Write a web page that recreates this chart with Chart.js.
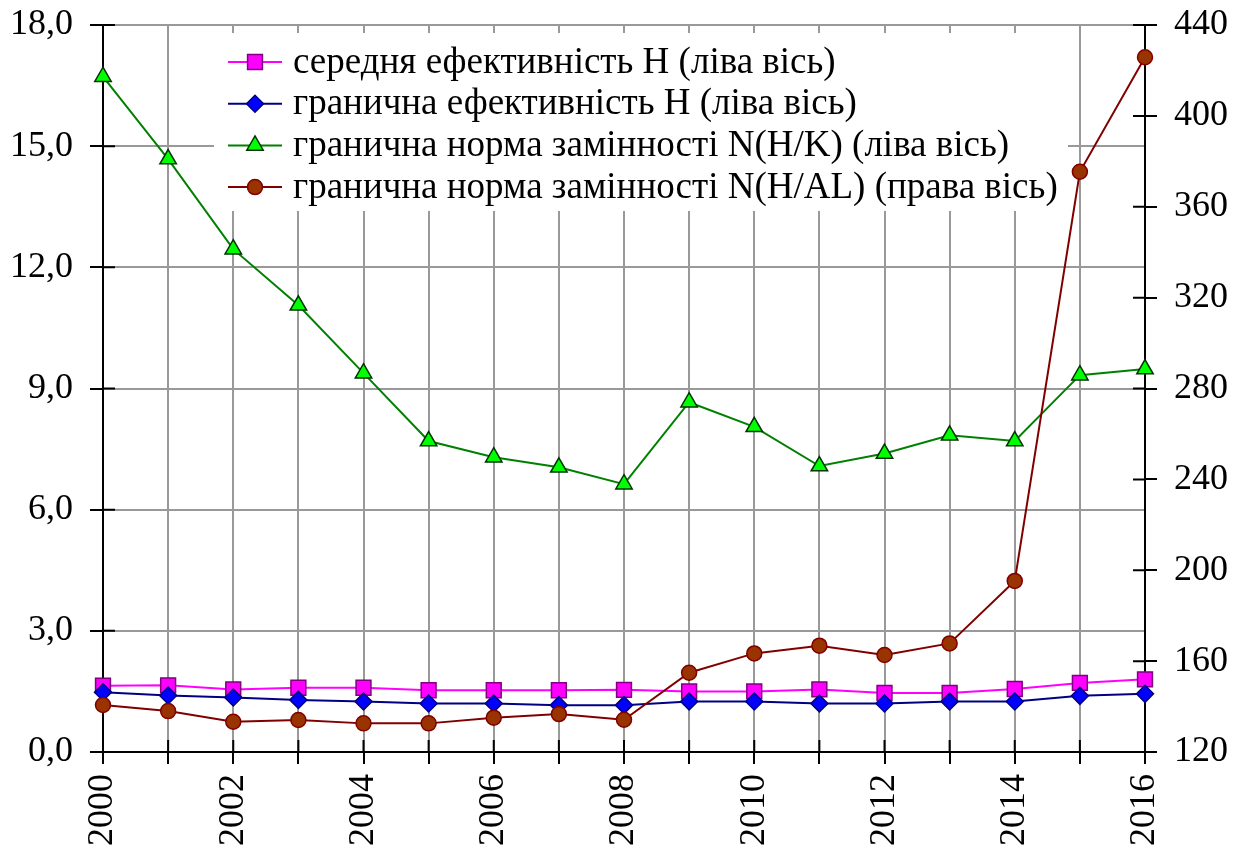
<!DOCTYPE html>
<html>
<head>
<meta charset="utf-8">
<script src="https://cdn.jsdelivr.net/npm/chart.js"></script>
<style>
  body { margin: 0; background: #fff; }
  canvas { display: block; }
</style>
</head>
<body>
<canvas id="lineChart" width="1247" height="855"></canvas>
<script>
// years on the x axis
var years = ['2000', '2001', '2002', '2003', '2004', '2005', '2006', '2007', '2008',
             '2009', '2010', '2011', '2012', '2013', '2014', '2015', '2016'];

// left axis series
var avgEfficiency = [1.64, 1.65, 1.55, 1.59, 1.59, 1.53, 1.53, 1.53, 1.54, 1.50, 1.50, 1.55, 1.46, 1.46, 1.56, 1.71, 1.80];
var margEfficiency = [1.48, 1.40, 1.35, 1.29, 1.25, 1.20, 1.20, 1.16, 1.16, 1.25, 1.25, 1.20, 1.20, 1.25, 1.25, 1.39, 1.44];
var rateHK = [16.72, 14.68, 12.45, 11.06, 9.38, 7.70, 7.30, 7.05, 6.63, 8.66, 8.05, 7.08, 7.39, 7.84, 7.70, 9.33, 9.48];

// right axis series
var rateHAL = [140.7, 138.0, 133.3, 134.1, 132.6, 132.6, 135.1, 136.7, 134.2, 154.9, 163.4, 166.8, 162.7, 167.8, 195.3, 375.4, 425.8];

var seriesLabels = [
  'середня ефективність Н (ліва вісь)',
  'гранична ефективність Н (ліва вісь)',
  'гранична норма замінності N(H/K) (ліва вісь)',
  'гранична норма замінності N(H/AL) (права вісь)'
];

var SERIF = '"Liberation Serif", "Times New Roman", Times, "DejaVu Serif", serif';

var datasets = [{
  label: seriesLabels[0],
  data: avgEfficiency,
  yAxisID: 'y',
  borderColor: '#ff00ff',
  borderWidth: 2,
  pointStyle: 'rect',
  pointRadius: 10.5,
  pointBackgroundColor: '#ff00ff',
  pointBorderColor: '#800080',
  pointBorderWidth: 1.5,
  order: 4
}, {
  label: seriesLabels[1],
  data: margEfficiency,
  yAxisID: 'y',
  borderColor: '#000080',
  borderWidth: 2,
  pointStyle: 'rectRot',
  pointRadius: 8.5,
  pointBackgroundColor: '#0000ff',
  pointBorderColor: '#000080',
  pointBorderWidth: 1.5,
  order: 3
}, {
  label: seriesLabels[2],
  data: rateHK,
  yAxisID: 'y',
  borderColor: '#008000',
  borderWidth: 2,
  pointStyle: 'triangle',
  pointRadius: 9.5,
  pointBackgroundColor: '#00ff00',
  pointBorderColor: '#003300',
  pointBorderWidth: 1.5,
  order: 2
}, {
  label: seriesLabels[3],
  data: rateHAL,
  yAxisID: 'y1',
  borderColor: '#800000',
  borderWidth: 2,
  pointStyle: 'circle',
  pointRadius: 7.5,
  pointBackgroundColor: '#993300',
  pointBorderColor: '#800000',
  pointBorderWidth: 1.5,
  order: 1
}];

// inner half of the tick marks (Chart.js only draws the outer half)
var innerTicks = {
  id: 'innerTicks',
  beforeDatasetsDraw: function(chart) {
    var ctx = chart.ctx;
    var a = chart.chartArea;
    ctx.save();
    ctx.strokeStyle = '#000';
    ctx.lineWidth = 2;
    ctx.beginPath();
    chart.scales.x.ticks.forEach(function(t, i) {
      var px = chart.scales.x.getPixelForTick(i);
      ctx.moveTo(px, a.bottom);
      ctx.lineTo(px, a.bottom - 12);
    });
    chart.scales.y.ticks.forEach(function(t, i) {
      var py = chart.scales.y.getPixelForTick(i);
      ctx.moveTo(a.left, py);
      ctx.lineTo(a.left + 12, py);
    });
    chart.scales.y1.ticks.forEach(function(t, i) {
      var py = chart.scales.y1.getPixelForTick(i);
      ctx.moveTo(a.right, py);
      ctx.lineTo(a.right - 12, py);
    });
    ctx.stroke();
    ctx.restore();
  }
};

// legend box inside the plot, white background over the grid
var boxLegend = {
  id: 'boxLegend',
  beforeDatasetsDraw: function(chart) {
    var ctx = chart.ctx;
    ctx.save();
    ctx.fillStyle = '#fff';
    ctx.fillRect(214, 33, 854, 178);
    ctx.font = '37px ' + SERIF;
    ctx.textBaseline = 'middle';
    datasets.forEach(function(ds, i) {
      var y = 62 + i * 41.7;
      ctx.strokeStyle = ds.borderColor;
      ctx.lineWidth = 2;
      ctx.beginPath();
      ctx.moveTo(228, y);
      ctx.lineTo(282, y);
      ctx.stroke();
      ctx.fillStyle = ds.pointBackgroundColor;
      ctx.strokeStyle = ds.pointBorderColor;
      ctx.lineWidth = ds.pointBorderWidth;
      Chart.helpers.drawPoint(ctx, {
        pointStyle: ds.pointStyle,
        radius: ds.pointRadius,
        rotation: 0,
        borderWidth: ds.pointBorderWidth
      }, 255, y);
      ctx.fillStyle = '#000';
      ctx.fillText(seriesLabels[i], 293, y + 1);
    });
    ctx.restore();
  }
};

var lineChartCanvas = document.getElementById('lineChart').getContext('2d');

new Chart(lineChartCanvas, {
  type: 'line',
  data: {
    labels: years,
    datasets: datasets
  },
  options: {
    responsive: false,
    animation: false,
    layout: { padding: { top: 25, left: 0, right: 0, bottom: 0 } },
    elements: { line: { tension: 0 } },
    plugins: {
      legend: { display: false },
      tooltip: { enabled: false }
    },
    scales: {
      x: {
        offset: false,
        grid: { color: '#999', lineWidth: 2, tickColor: '#000', tickLength: 12 },
        border: { color: '#000', width: 2 },
        ticks: {
          autoSkip: false,
          minRotation: 90,
          maxRotation: 90,
          padding: 10,
          color: '#000',
          font: { family: SERIF, size: 36 },
          callback: function(value, index) {
            return index % 2 === 0 ? years[index] : '';
          }
        },
        afterFit: function(scale) {
          scale.height = 103;
          scale.paddingLeft = 0;
          scale.paddingRight = 0;
        }
      },
      y: {
        position: 'left',
        min: 0,
        max: 18,
        grid: { color: '#999', lineWidth: 2, tickColor: '#000', tickLength: 13 },
        border: { color: '#000', width: 2 },
        ticks: {
          stepSize: 3,
          padding: 17,
          color: '#000',
          font: { family: SERIF, size: 36 },
          callback: function(value) {
            return value.toFixed(1).replace('.', ',');
          }
        },
        afterFit: function(scale) {
          scale.width = 103;
          scale.paddingTop = 0;
          scale.paddingBottom = 0;
        }
      },
      y1: {
        position: 'right',
        min: 120,
        max: 440,
        grid: { drawOnChartArea: false, tickColor: '#000', tickLength: 12, lineWidth: 2 },
        border: { color: '#000', width: 2 },
        ticks: {
          stepSize: 40,
          padding: 17,
          color: '#000',
          font: { family: SERIF, size: 36 }
        },
        afterFit: function(scale) {
          scale.width = 102;
          scale.paddingTop = 0;
          scale.paddingBottom = 0;
        }
      }
    }
  },
  plugins: [innerTicks, boxLegend]
});
</script>
</body>
</html>
